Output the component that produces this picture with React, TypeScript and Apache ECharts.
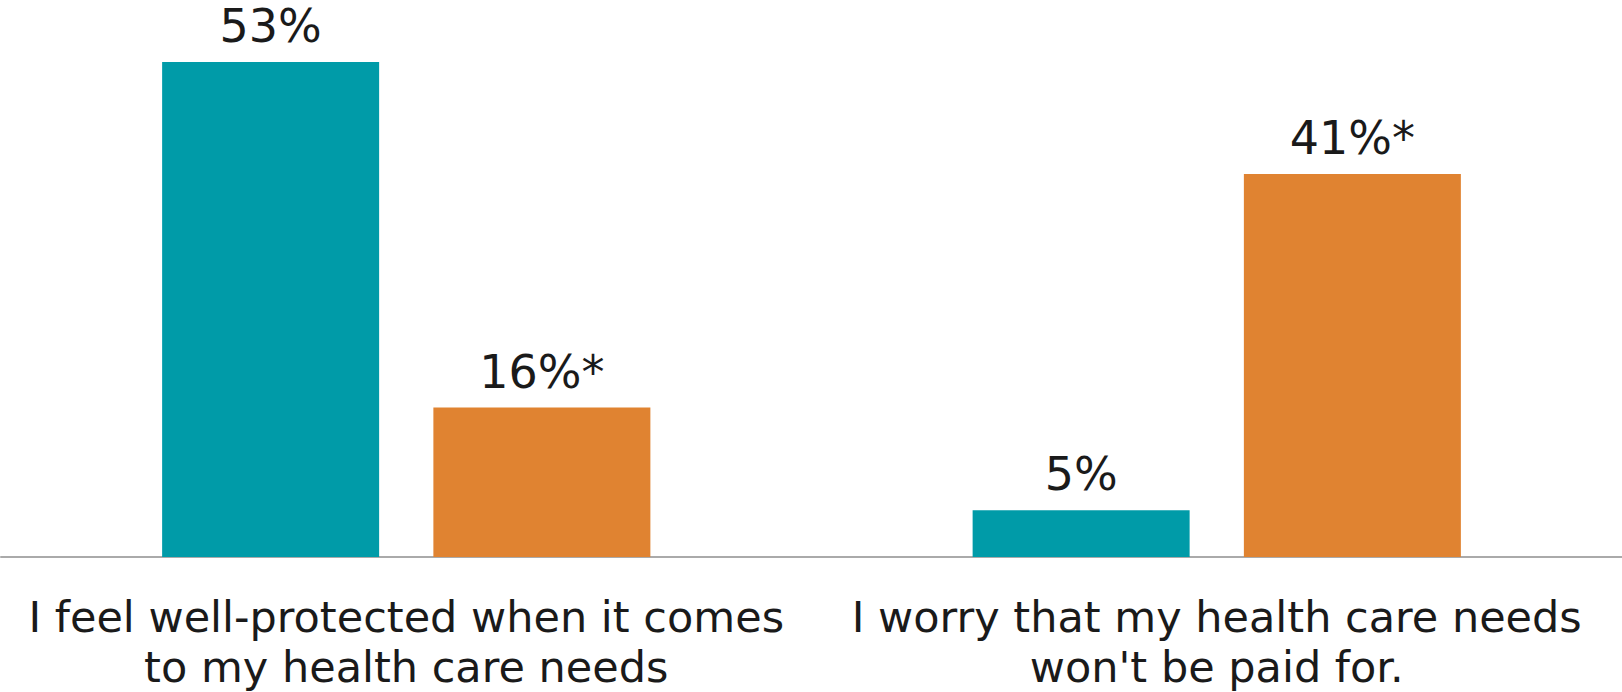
import React, { useEffect, useRef } from "react";
import * as echarts from "echarts";

const categories = [
  "I feel well-protected when it comes\nto my health care needs",
  "I worry that my health care needs\nwon't be paid for.",
];
const tealValues = [53, 5];
const orangeValues = [16, 41];
const tealSignificant = [false, false];
const orangeSignificant = [true, true];

const TEAL = "#009ba8";
const ORANGE = "#e08331";
const FONT = "DejaVu Sans";

export default function App() {
  const ref = useRef<HTMLDivElement>(null);
  useEffect(() => {
    if (!ref.current) return;
    const chart = echarts.init(ref.current, undefined, { renderer: "svg" });
    const labelStyle = (sig: boolean[]) => ({
      show: true,
      position: "top" as const,
      distance: 16,
      fontFamily: FONT,
      fontSize: 46,
      lineHeight: 40,
      color: "#1a1a1a",
      formatter: (p: any) => `${p.value}%${sig[p.dataIndex] ? "*" : ""}`,
    });
    chart.setOption({
      animation: false,
      backgroundColor: "#ffffff",
      grid: { left: 1, right: 0, top: 62, bottom: 131, containLabel: false },
      xAxis: {
        type: "category",
        data: categories,
        axisLine: { show: true, lineStyle: { color: "#aaaaaa", width: 2 } },
        axisTick: { show: false },
        axisLabel: {
          interval: 0,
          margin: 35,
          fontFamily: FONT,
          fontSize: 43,
          lineHeight: 50,
          color: "#1a1a1a",
          align: "center",
        },
      },
      yAxis: {
        type: "value",
        min: 0,
        max: 53,
        show: false,
        splitLine: { show: false },
      },
      series: [
        {
          type: "bar",
          name: "teal",
          data: tealValues,
          barWidth: 217,
          barGap: "25%",
          itemStyle: { color: TEAL },
          label: labelStyle(tealSignificant),
        },
        {
          type: "bar",
          name: "orange",
          data: orangeValues,
          barWidth: 217,
          barGap: "25%",
          itemStyle: { color: ORANGE },
          label: labelStyle(orangeSignificant),
        },
      ],
    });
    return () => chart.dispose();
  }, []);
  return (
    <div
      ref={ref}
      style={{ position: "fixed", left: 0, top: 0, width: 1622, height: 692 }}
    />
  );
}
